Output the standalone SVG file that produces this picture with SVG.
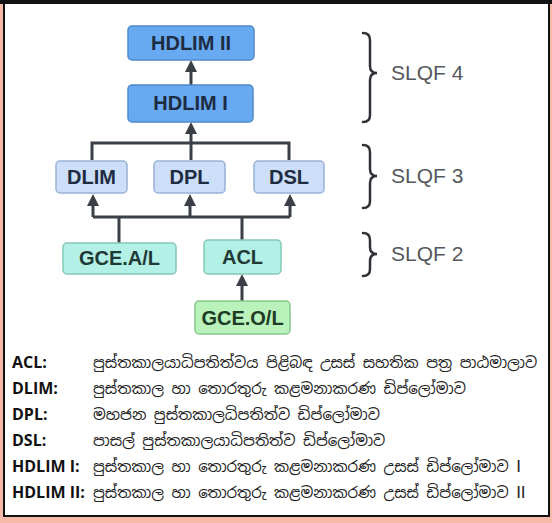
<svg xmlns="http://www.w3.org/2000/svg" width="552" height="523" viewBox="0 0 552 523">
<defs>
<marker id="ah" markerUnits="userSpaceOnUse" markerWidth="14" markerHeight="14" refX="7" refY="7" orient="auto">
<path d="M1,1 L13,7 L1,13 Z" fill="#3b3f46"/>
</marker>
<style>
.n text{font-family:"Liberation Sans",Arial,sans-serif;font-weight:bold;font-size:20px;text-anchor:middle}
.b1 rect{fill:#68aaf2;stroke:#4f89c9;stroke-width:1.5}
.b1 text{fill:#1e2c42}
.b2 rect{fill:#cddff8;stroke:#98b2d6;stroke-width:1.5}
.b2 text{fill:#1e2c42}
.t rect{fill:#b3f0e5;stroke:#84c6b6;stroke-width:1.5}
.t text{fill:#1f3a35}
.g rect{fill:#b9f2bb;stroke:#86c78b;stroke-width:1.5}
.g text{fill:#1f3a25}
.c path{fill:none;stroke:#3b3f46;stroke-width:3}
.br path{fill:none;stroke:#2e3136;stroke-width:2.5;stroke-linecap:round}
.lv{font-family:"Liberation Sans",Arial,sans-serif;font-size:21px;fill:#55585c}
.lg{font-family:"Open Sans","Liberation Sans",sans-serif;font-size:16px;font-weight:bold;fill:#111}
.si{font-family:"Noto Sans Sinhala","Noto Serif Sinhala","Iskoola Pota","Lohit Sinhala","Noto Sans",sans-serif;font-size:15px;fill:#222}
.rn{font-family:"Liberation Sans",Arial,sans-serif;font-size:17px}
</style>
</defs>
<rect x="0" y="0" width="552" height="523" fill="#f6b9a8"/>
<rect x="4" y="2" width="545" height="514" fill="#fff" stroke="#111" stroke-width="2"/>
<rect x="0" y="0" width="552" height="4" fill="#111"/>

<g class="c" id="connectors">
<path d="M191,85 V66" marker-end="url(#ah)"/>
<path d="M92,160 V143 H289 V160"/>
<path d="M191,160 V128" marker-end="url(#ah)"/>
<path d="M93,217 H290"/>
<path d="M119,243 V217"/>
<path d="M242,240 V217"/>
<path d="M93,217 V200" marker-end="url(#ah)"/>
<path d="M190,217 V200" marker-end="url(#ah)"/>
<path d="M290,217 V200" marker-end="url(#ah)"/>
<path d="M242,301 V280" marker-end="url(#ah)"/>
</g>

<g id="hdlim2" class="n b1"><rect x="128" y="26" width="126" height="34" rx="4"/><text x="191" y="50">HDLIM II</text></g>
<g id="hdlim1" class="n b1"><rect x="128" y="85" width="125" height="37" rx="4"/><text x="190.5" y="110">HDLIM I</text></g>
<g id="dlim" class="n b2"><rect x="56" y="161" width="71" height="32" rx="4"/><text x="91.5" y="184">DLIM</text></g>
<g id="dpl" class="n b2"><rect x="154" y="161" width="71" height="32" rx="4"/><text x="189.5" y="184">DPL</text></g>
<g id="dsl" class="n b2"><rect x="254" y="161" width="70" height="32" rx="4"/><text x="289" y="184">DSL</text></g>
<g id="gceal" class="n t"><rect x="63" y="243" width="113" height="31" rx="4"/><text x="119.5" y="265">GCE.A/L</text></g>
<g id="acl" class="n t"><rect x="204" y="240" width="77" height="34" rx="4"/><text x="242.5" y="264">ACL</text></g>
<g id="gceol" class="n g"><rect x="195" y="301" width="95" height="33" rx="4"/><text x="242.5" y="325">GCE.O/L</text></g>

<g id="slqf4" class="br"><path d="M363,33 Q370,33 370,40 V66 Q370,73 377,73 Q370,73 370,80 V115 Q370,122 363,122"/><text class="lv" x="391" y="80">SLQF 4</text></g>
<g id="slqf3" class="br"><path d="M363,145 Q370,145 370,152 V169 Q370,176 377,176 Q370,176 370,183 V201 Q370,208 363,208"/><text class="lv" x="391" y="183">SLQF 3</text></g>
<g id="slqf2" class="br"><path d="M363,233 Q370,233 370,240 V247 Q370,254 377,254 Q370,254 370,261 V269 Q370,276 363,276"/><text class="lv" x="391" y="261">SLQF 2</text></g>

<g id="legend">
<text class="lg" x="12" y="368">ACL:</text>
<text class="lg" x="12" y="394">DLIM:</text>
<text class="lg" x="12" y="420">DPL:</text>
<text class="lg" x="12" y="446">DSL:</text>
<text class="lg" x="12" y="472">HDLIM I:</text>
<text class="lg" x="12" y="498">HDLIM II:</text>
<text class="si" x="93" y="368">පුස්තකාලයාධිපතිත්වය පිළිබඳ උසස් සහතික පත්‍ර පාඨමාලාව</text>
<text class="si" x="93" y="394">පුස්තකාල හා තොරතුරු කළමනාකරණ ඩිප්ලෝමාව</text>
<text class="si" x="93" y="420">මහජන පුස්තකාලධිපතිත්ව ඩිප්ලෝමාව</text>
<text class="si" x="93" y="446">පාසල් පුස්තකාලයාධිපතිත්ව ඩිප්ලෝමාව</text>
<text class="si" x="93" y="472">පුස්තකාල හා තොරතුරු කළමනාකරණ උසස් ඩිප්ලෝමාව <tspan class="rn">I</tspan></text>
<text class="si" x="93" y="498">පුස්තකාල හා තොරතුරු කළමනාකරණ උසස් ඩිප්ලෝමාව <tspan class="rn">II</tspan></text>
</g>
</svg>
